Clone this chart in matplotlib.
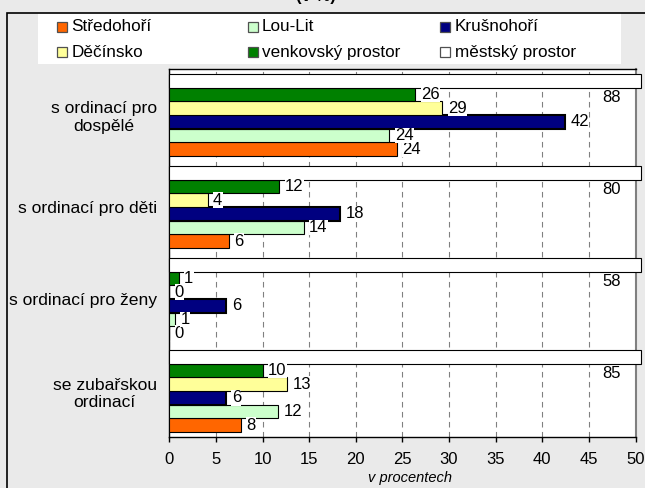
import numpy as np
import matplotlib
matplotlib.use('Agg')
import matplotlib.pyplot as plt
from matplotlib.patches import Rectangle

plt.rcParams['font.family'] = ['Liberation Sans', 'DejaVu Sans']

# ---- data ----
categories = ['s ordinací pro\ndospělé', 's ordinací pro děti',
              's ordinací pro ženy', 'se zubařskou\nordinací']
series_names = ['Středohoří', 'Lou-Lit', 'Krušnohoří',
                'Děčínsko', 'venkovský prostor', 'městský prostor']
stredohori = [24.4, 6.4, 0.0, 7.7]
lou_lit = [23.6, 14.4, 0.6, 11.7]
krusnohori = [42.4, 18.3, 6.1, 6.1]
decinsko = [29.3, 4.1, 0.0, 12.6]
venkovsky = [26.4, 11.8, 1.0, 10.0]
mestsky = [88, 80, 58, 85]
x_ticks = [0, 5, 10, 15, 20, 25, 30, 35, 40, 45, 50]
x_label = 'v procentech'
title = '(v %)'

colors = ['#FF6600', '#CCFFCC', '#000080', '#FFFF99', '#008000', '#FFFFFF']
series = [stredohori, lou_lit, krusnohori, decinsko, venkovsky, mestsky]

W, H = 645, 488
fig = plt.figure(figsize=(W / 100, H / 100), dpi=100, facecolor='#EAEAEA')

# legend box
fig.add_artist(Rectangle((37.5 / W, 1 - 63.5 / H), (621 - 37.5) / W, 50 / H,
                         transform=fig.transFigure, fc='white', ec='none'))
# figure border (left and top visible)
fig.add_artist(Rectangle((7 / W, -0.2), 1.5, 1 - 13 / H + 0.2,
                         transform=fig.transFigure, fill=False,
                         ec='black', lw=1.2))

ax = fig.add_axes([169.3 / W, 1 - 437 / H, (635.5 - 169.3) / W, (437 - 69) / H])
ax.set_facecolor('white')

xmax = x_ticks[-1]
h = 0.148
ypos = np.arange(len(categories))
n = len(series)
for k, (name, vals, col) in enumerate(zip(series_names, series, colors)):
    off = (n / 2 - 0.5 - k) * h
    yy = ypos + off
    vals = np.asarray(vals, dtype=float)
    if k == n - 1:
        bars = ax.barh(yy, np.minimum(vals, xmax * 1.011), height=h, color=col,
                       edgecolor='black', linewidth=0.8, zorder=3)
        for b in bars:
            b.set_clip_on(False)
        for v, y in zip(vals, yy):
            ax.text(xmax * 0.969, y + 1.2 * h, f'{v:.0f}', ha='right',
                    va='center', fontsize=12, zorder=5)
    else:
        lw = 1.5 if col == '#000080' else 0.8
        ax.barh(yy, vals, height=h, color=col, edgecolor='black',
                linewidth=lw, zorder=3)
        for v, y in zip(vals, yy):
            ax.annotate(f'{v:.0f}', (v, y), xytext=(4, 0),
                        textcoords='offset points', ha='left', va='center',
                        fontsize=12, zorder=5,
                        bbox=dict(facecolor='white', edgecolor='none', pad=0.3))

ax.set_xlim(0, xmax)
ax.set_ylim(len(categories) - 0.5, -0.5)
ax.set_xticks(x_ticks)
ax.set_yticks(ypos)
ax.set_yticklabels(categories)
for lbl in ax.get_yticklabels():
    lbl.set_multialignment('center')
ax.tick_params(axis='x', direction='out', length=3.5, width=1, pad=7,
               labelsize=12, colors='black')
ax.tick_params(axis='y', length=0, pad=9, labelsize=12.6)
ax.xaxis.grid(True, color='#808080', linestyle=(0, (5, 4)), linewidth=0.8)
ax.set_axisbelow(True)
for s in ['left', 'bottom', 'top']:
    ax.spines[s].set_color('black')
    ax.spines[s].set_linewidth(1)
ax.spines['right'].set_color('#808080')
ax.spines['right'].set_linewidth(1.5)

ax.set_xlabel(x_label, fontsize=10.5, style='italic')
ax.xaxis.set_label_coords(0.517, -0.092)

# manual legend (3 columns, row-major)
col_x = [57, 247.5, 440]
for i, (name, col) in enumerate(zip(series_names, colors)):
    c, r = i % 3, i // 3
    sx = col_x[c]
    sy = 26.5 + 25.8 * r
    fig.add_artist(Rectangle((sx / W, 1 - (sy + 5) / H), 10 / W, 10 / H,
                             transform=fig.transFigure, fc=col,
                             ec='#505050', lw=0.9))
    fig.text((sx + 14.5) / W, 1 - sy / H, name, ha='left', va='center',
             fontsize=12.3)

fig.text(316 / W, 1 - 0.5 / H, title, ha='center', va='baseline',
         fontsize=12, fontweight='bold')

fig.savefig('out.png', dpi=100, facecolor=fig.get_facecolor())
